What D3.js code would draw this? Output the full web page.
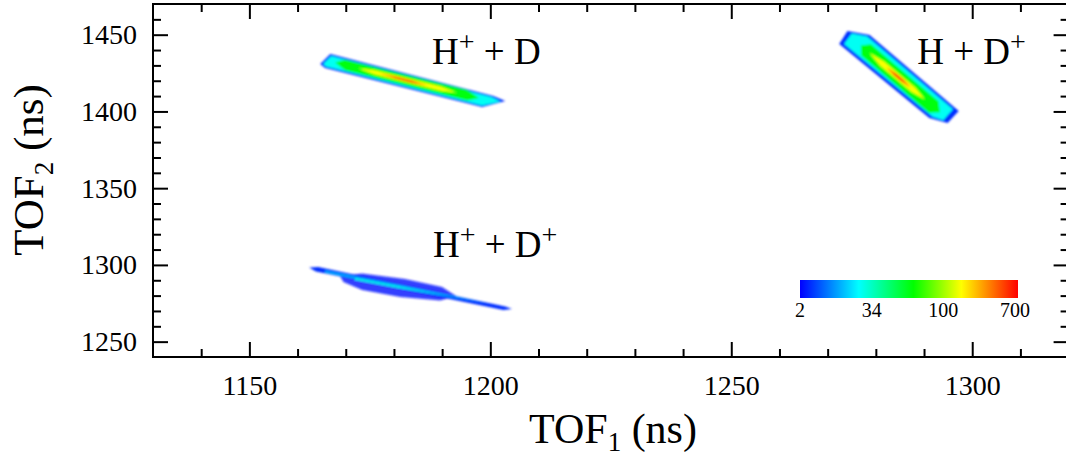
<!DOCTYPE html>
<html>
<head>
<meta charset="utf-8">
<script src="https://cdn.jsdelivr.net/npm/d3@7"></script>
<style>
  body { margin: 0; background: #fff; }
  svg { display: block; font-family: "Liberation Serif", "Times New Roman", serif; }
</style>
</head>
<body>
<svg id="chart" width="1066" height="459"></svg>
<script>
// ---- data ----
const xMajorTicks = [1150, 1200, 1250, 1300]
const yMajorTicks = [1250, 1300, 1350, 1400, 1450]
const barCounts = [2, 34, 100, 700]
const barLabels = ['2', '34', '100', '700']

// each island = nested count contours, points are [TOF1, TOF2] in ns
const islandHD = [   // H+ + D
  { n: 3,   pts: [[1164.7,1430.9],[1166.8,1437.4],[1200.6,1410.0],[1203.1,1406.8],[1198.3,1402.9],[1165.7,1428.3]] },
  { n: 22,  pts: [[1165.3,1430.9],[1167.0,1436.1],[1200.2,1409.4],[1202.1,1406.5],[1198.3,1403.8],[1165.9,1429.3]] },
  { n: 60,  pts: [[1167.8,1431.9],[1169.8,1433.7],[1195.2,1413.9],[1197.6,1408.7],[1195.2,1407.1],[1169.8,1426.9]] },
  { n: 150, pts: [[1172.6,1428.2],[1176.0,1426.9],[1189.7,1416.2],[1193.1,1412.1],[1189.7,1413.4],[1176.0,1424.1]] },
  { n: 350, pts: [[1177.0,1424.7],[1180.1,1423.0],[1183.9,1420.0],[1187.0,1416.9],[1183.9,1418.6],[1180.1,1421.6]] },
  { n: 650, pts: [[1179.4,1422.8],[1181.1,1421.9],[1183.5,1420.0],[1184.9,1418.5],[1183.5,1419.2],[1181.1,1421.1]] }
]
const islandDp = [   // H + D+
  { n: 3,   pts: [[1272.4,1443.9],[1274.1,1452.4],[1278.7,1449.8],[1297.2,1400.3],[1294.9,1392.4],[1291.1,1395.7]] },
  { n: 22,  pts: [[1273.4,1444.0],[1275.0,1450.8],[1278.2,1448.9],[1296.0,1401.5],[1294.0,1394.2],[1291.8,1396.5]] },
  { n: 60,  pts: [[1276.9,1442.9],[1279.0,1443.7],[1293.0,1406.6],[1293.3,1399.4],[1291.0,1399.2],[1277.0,1436.3]] },
  { n: 150, pts: [[1278.7,1438.0],[1281.7,1432.6],[1288.2,1415.5],[1290.2,1407.8],[1287.4,1412.7],[1280.9,1429.8]] },
  { n: 350, pts: [[1282.2,1428.8],[1284.1,1425.1],[1285.8,1420.7],[1287.2,1415.6],[1285.4,1419.2],[1283.7,1423.6]] },
  { n: 650, pts: [[1283.5,1425.3],[1284.5,1423.3],[1285.9,1419.0],[1284.9,1421.0]] }
]
const islandHpDp = [ // H+ + D+
  { n: 3,   pts: [[1162.4,1298.3],[1164.3,1298.6],[1203.1,1272.9],[1204.5,1271.3],[1202.7,1270.6],[1163.8,1295.7]] },
  { n: 2.4, pts: [[1168.8,1292.8],[1173.4,1294.4],[1182.3,1290.8],[1190.0,1285.6],[1192.9,1279.7],[1189.6,1276.8],[1181.3,1279.1],[1173.4,1283.6],[1169.5,1288.9]] },
  { n: 10,  pts: [[1165.7,1296.4],[1181.3,1286.7],[1200.0,1274.5],[1181.3,1285.0],[1165.7,1295.1]] },
  { n: 25,  pts: [[1171.9,1291.5],[1180.2,1286.6],[1192.7,1278.8],[1180.2,1285.4],[1171.9,1290.3]] }
]

const annotations = [
  [['H', 0], ['+', 1], [' + D', 0]],
  [['H + D', 0], ['+', 1]],
  [['H', 0], ['+', 1], [' + D', 0], ['+', 1]]
]

// ---- layout ----
const svg = d3.select('#chart')
const plotLeft = 153, plotRight = 1068.6, plotTop = 4, plotBottom = 357
const serif = '"Liberation Serif", "Times New Roman", serif'

const xScale = d3.scaleLinear().domain([1130, 1320]).range([plotLeft, plotRight])
const yScale = d3.scaleLinear().domain([1240, 1470]).range([plotBottom, plotTop])

// colour: counts -> position on the bar -> jet colours
const barPos = d3.scaleLog().domain(barCounts).range([0, 1/3, 2/3, 1]).clamp(true)
const jetStops = [0, 0.27, 0.52, 0.74, 1]
const jetColors = ['#0000ff', '#00ffff', '#00ff00', '#ffff00', '#ff0000']
const jet = d3.scaleLinear().domain(jetStops).range(jetColors)
const colorOf = n => jet(barPos(n))

const defs = svg.append('defs')
defs.append('filter').attr('id', 'soft')
  .attr('x', '-10%').attr('y', '-10%').attr('width', '120%').attr('height', '120%')
  .append('feGaussianBlur').attr('stdDeviation', 0.8)

// islands
const contour = d3.line()
  .x(d => xScale(d[0]))
  .y(d => yScale(d[1]))
  .curve(d3.curveLinearClosed)

const islands = svg.append('g').attr('filter', 'url(#soft)')
;[islandHD, islandDp, islandHpDp].forEach(island => {
  islands.append('g')
    .selectAll('path')
    .data(island)
    .enter()
    .append('path')
    .attr('d', d => contour(d.pts))
    .style('fill', d => colorOf(d.n))
    .style('fill-opacity', d => d.n < 3 ? 0.8 : 1)
})

// axes, ticks inside the frame
const minorX = d3.range(1140, 1321, 10).filter(v => !xMajorTicks.includes(v))
const minorY = d3.range(1250, 1470, 10).filter(v => !yMajorTicks.includes(v))

const axisLine = g => {
  g.attr('font-family', null).attr('font-size', null)
  g.select('.domain').remove()
  g.selectAll('.tick line').style('stroke', '#000').style('stroke-width', 2)
  g.selectAll('.tick text')
    .attr('font-family', serif)
    .attr('font-size', 28)
    .style('fill', '#000')
}

svg.append('g').attr('transform', `translate(0,${plotBottom})`)
  .call(d3.axisBottom(xScale).tickValues(xMajorTicks).tickSize(-15).tickPadding(18).tickFormat(d3.format('d')))
  .call(axisLine)
svg.append('g').attr('transform', `translate(0,${plotBottom})`)
  .call(d3.axisBottom(xScale).tickValues(minorX).tickSize(-8).tickFormat(''))
  .call(axisLine)
svg.append('g').attr('transform', `translate(0,${plotTop})`)
  .call(d3.axisTop(xScale).tickValues(xMajorTicks).tickSize(-15).tickFormat(''))
  .call(axisLine)
svg.append('g').attr('transform', `translate(0,${plotTop})`)
  .call(d3.axisTop(xScale).tickValues(minorX).tickSize(-8).tickFormat(''))
  .call(axisLine)

svg.append('g').attr('transform', `translate(${plotLeft},0)`)
  .call(d3.axisLeft(yScale).tickValues(yMajorTicks).tickSize(-15).tickPadding(16).tickFormat(d3.format('d')))
  .call(axisLine)
svg.append('g').attr('transform', `translate(${plotLeft},0)`)
  .call(d3.axisLeft(yScale).tickValues(minorY).tickSize(-8).tickFormat(''))
  .call(axisLine)
svg.append('g').attr('transform', `translate(${plotRight},0)`)
  .call(d3.axisRight(yScale).tickValues(yMajorTicks).tickSize(-15).tickFormat(''))
  .call(axisLine)
svg.append('g').attr('transform', `translate(${plotRight},0)`)
  .call(d3.axisRight(yScale).tickValues(minorY).tickSize(-8).tickFormat(''))
  .call(axisLine)

// frame
svg.append('rect')
  .attr('x', plotLeft).attr('y', plotTop)
  .attr('width', plotRight - plotLeft).attr('height', plotBottom - plotTop)
  .style('fill', 'none').style('stroke', '#000').style('stroke-width', 2)

// axis titles
const xTitle = svg.append('text')
  .attr('x', 613).attr('y', 443)
  .attr('text-anchor', 'middle')
  .style('font-size', '42px')
xTitle.append('tspan').text('TOF')
xTitle.append('tspan').attr('dy', 8).style('font-size', '27px').text('1')
xTitle.append('tspan').attr('dy', -8).text(' (ns)')

const yTitle = svg.append('text')
  .attr('transform', 'translate(43,170) rotate(-90)')
  .attr('text-anchor', 'middle')
  .style('font-size', '43px')
yTitle.append('tspan').text('TOF')
yTitle.append('tspan').attr('dy', 10).style('font-size', '27px').text('2')
yTitle.append('tspan').attr('dy', -10).text(' (ns)')

// island labels
const labelAnchors = [[1187.9, 1430.9], [1288.6, 1430.9], [1188.1, 1305.1]]
annotations.forEach((parts, i) => {
  const t = svg.append('text')
    .attr('x', xScale(labelAnchors[i][0]))
    .attr('y', yScale(labelAnchors[i][1]))
    .style('font-size', '37px')
    .style('white-space', 'pre')
  let up = false
  parts.forEach(([s, sup]) => {
    const span = t.append('tspan').text(s)
    if (sup && !up) { span.attr('dy', -13).style('font-size', '28px'); up = true }
    else if (!sup && up) { span.attr('dy', 13); up = false }
    else if (sup) span.style('font-size', '28px')
  })
})

// colour bar
const barX0 = 800, barX1 = 1018, barY = 280, barH = 18
const grad = defs.append('linearGradient').attr('id', 'jetbar')
jetStops.forEach((s, i) => {
  grad.append('stop').attr('offset', s).attr('stop-color', jetColors[i])
})
svg.append('rect')
  .attr('x', barX0).attr('y', barY)
  .attr('width', barX1 - barX0).attr('height', barH)
  .style('fill', 'url(#jetbar)')

const barScale = d3.scalePoint().domain(barLabels).range([barX0, barX1 - 3])
svg.selectAll('text.barlabel')
  .data(barLabels)
  .enter()
  .append('text')
  .attr('class', 'barlabel')
  .attr('x', d => barScale(d))
  .attr('y', 317)
  .attr('text-anchor', 'middle')
  .style('font-size', '20px')
  .text(d => d)
</script>
</body>
</html>
